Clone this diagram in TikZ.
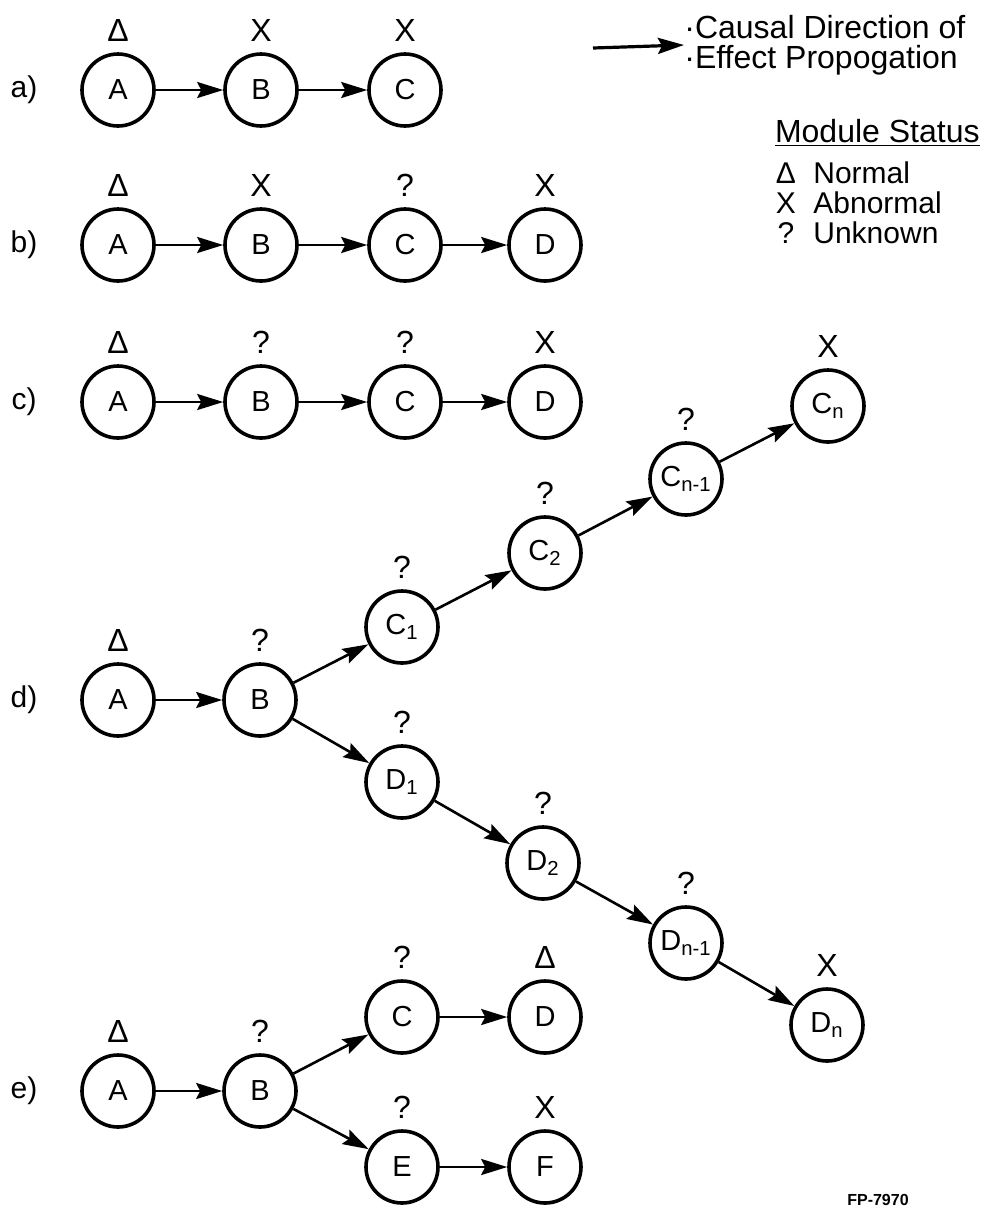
\documentclass[tikz,border=0pt]{standalone}
\usepackage{fontspec}
\setmainfont{Liberation Sans}
\usetikzlibrary{arrows.meta}

\begin{document}
\begin{tikzpicture}[
  x=0.5pt, y=-0.5pt,
  module/.style={circle, draw, line width=1.8pt, minimum size=36pt, inner sep=0pt, font=\fontsize{14.5}{14}\selectfont},
  flow/.style={draw, line width=1.3pt, -{Stealth[length=13pt, width=8pt, inset=2pt]}},
  label distance=5pt,
  every label/.style={font=\fontsize{16}{16}\selectfont, inner sep=0pt, text height=11pt, text depth=0pt},
  rowtag/.style={font=\fontsize{15}{15}\selectfont},
  legend/.style={font=\fontsize{16}{15}\selectfont, align=left, inner sep=0pt}
]
\useasboundingbox (0,0) rectangle (994,1207);

% legend
\coordinate (flowtail) at (593,48);
\node[legend, anchor=west] (caption) at (684,45) {·Causal Direction of\\·Effect Propogation};
\draw[flow, line width=1.6pt] (flowtail) -- (caption.west);
\node[legend, anchor=east] (status) at (980,133) {\underline{Module Status}};
\node[legend, font=\fontsize{15}{15}\selectfont] (normalmark) at (786,173) {Δ};
\node[legend, font=\fontsize{15}{15}\selectfont, anchor=west] (normal) at (813,173) {Normal};
\node[legend, font=\fontsize{15}{15}\selectfont] (abnormalmark) at (786,203) {X};
\node[legend, font=\fontsize{15}{15}\selectfont, anchor=west] (abnormal) at (813,203) {Abnormal};
\node[legend, font=\fontsize{15}{15}\selectfont] (unknownmark) at (786,233) {?};
\node[legend, font=\fontsize{15}{15}\selectfont, anchor=west] (unknown) at (813,233) {Unknown};

% a)
\node[rowtag] (ta) at (24,90) {a)};
\node[module, label=above:Δ] (a1) at (118,90) {A};
\node[module, label=above:X] (a2) at (261,90) {B};
\node[module, label=above:X] (a3) at (405,90) {C};
\draw[flow] (a1) -- (a2);
\draw[flow] (a2) -- (a3);

% b)
\node[rowtag] (tb) at (24,245) {b)};
\node[module, label=above:Δ] (b1) at (118,245) {A};
\node[module, label=above:X] (b2) at (261,245) {B};
\node[module, label=above:?] (b3) at (405,245) {C};
\node[module, label=above:X] (b4) at (545,245) {D};
\draw[flow] (b1) -- (b2);
\draw[flow] (b2) -- (b3);
\draw[flow] (b3) -- (b4);

% c)
\node[rowtag] (tc) at (24,402) {c)};
\node[module, label=above:Δ] (c1) at (118,402) {A};
\node[module, label=above:?] (c2) at (261,402) {B};
\node[module, label=above:?] (c3) at (405,402) {C};
\node[module, label=above:X] (c4) at (545,402) {D};
\draw[flow] (c1) -- (c2);
\draw[flow] (c2) -- (c3);
\draw[flow] (c3) -- (c4);

% d) two chains out of B
\node[rowtag] (td) at (24,700) {d)};
\node[module, label=above:Δ] (d1) at (118,700) {A};
\node[module, label=above:?] (d2) at (260,700) {B};
\node[module, label=above:?] (dc1) at (402,627) {C\textsubscript{1}};
\node[module, label=above:?] (dc2) at (545,553) {C\textsubscript{2}};
\node[module, label=above:?] (dc3) at (686,479) {C\textsubscript{n-1}};
\node[module, label=above:X] (dc4) at (828,406) {C\textsubscript{n}};
\node[module, label=above:?] (dd1) at (402,782) {D\textsubscript{1}};
\node[module, label=above:?] (dd2) at (543,863) {D\textsubscript{2}};
\node[module, label=above:?] (dd3) at (686,943) {D\textsubscript{n-1}};
\node[module, label=above:X] (dd4) at (827,1025) {D\textsubscript{n}};
\draw[flow] (d1) -- (d2);
\draw[flow] (d2) -- (dc1);
\draw[flow] (dc1) -- (dc2);
\draw[flow] (dc2) -- (dc3);
\draw[flow] (dc3) -- (dc4);
\draw[flow] (d2) -- (dd1);
\draw[flow] (dd1) -- (dd2);
\draw[flow] (dd2) -- (dd3);
\draw[flow] (dd3) -- (dd4);

% e)
\node[rowtag] (te) at (24,1091) {e)};
\node[module, label=above:Δ] (e1) at (118,1091) {A};
\node[module, label=above:?] (e2) at (260,1091) {B};
\node[module, label=above:?] (e3) at (402,1017) {C};
\node[module, label=above:Δ] (e4) at (545,1017) {D};
\node[module, label=above:?] (e5) at (402,1167) {E};
\node[module, label=above:X] (e6) at (545,1167) {F};
\draw[flow] (e1) -- (e2);
\draw[flow] (e2) -- (e3);
\draw[flow] (e3) -- (e4);
\draw[flow] (e2) -- (e5);
\draw[flow] (e5) -- (e6);

\node[font=\bfseries\fontsize{8}{8}\selectfont] (fp) at (878,1200) {FP-7970};
\end{tikzpicture}
\end{document}
